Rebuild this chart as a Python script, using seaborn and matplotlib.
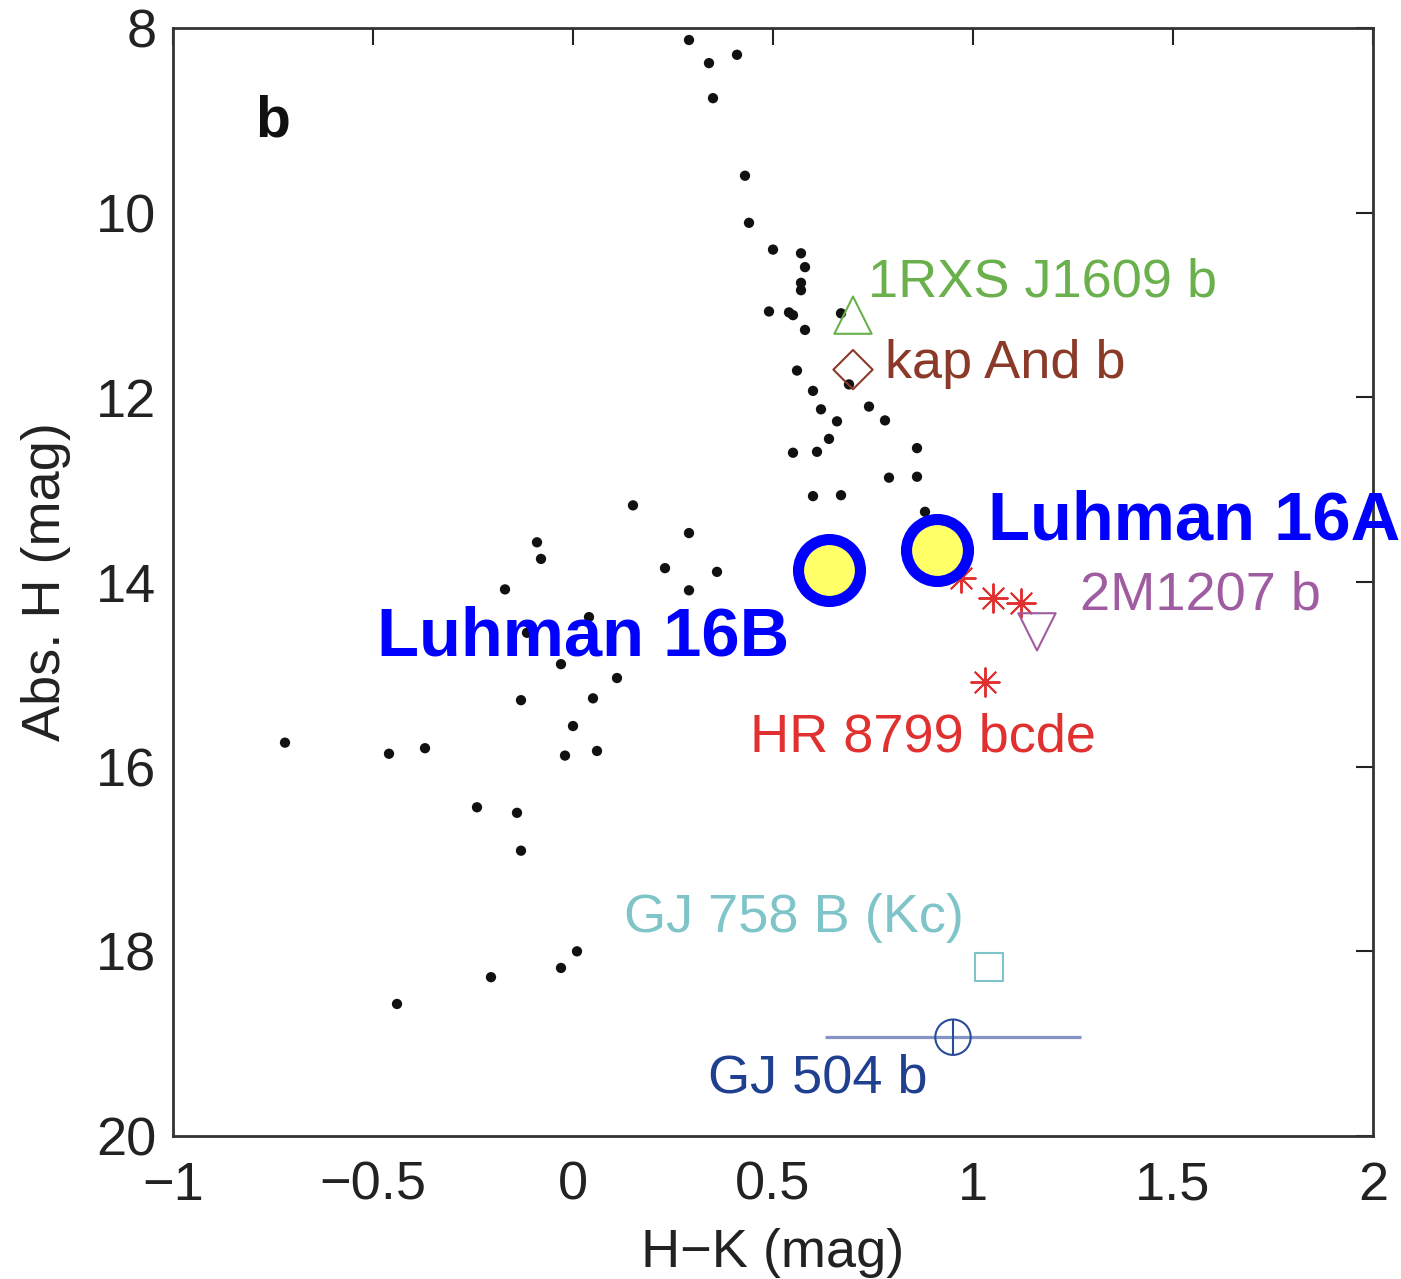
import matplotlib
matplotlib.use("Agg")
import matplotlib.pyplot as plt
import seaborn as sns
import pandas as pd

# Field brown dwarfs (H-K, Abs. H)
field_hk = [0.29, 0.34, 0.41, 0.35, 0.43, 0.44, 0.50, 0.57, 0.58, 0.57, 0.57, 0.49,
            0.54, 0.55, 0.58, 0.56, 0.60, 0.62, 0.66, 0.74, 0.78, 0.64, 0.61, 0.55,
            0.86, 0.79, 0.86, 0.60, 0.67, 0.15, 0.88, 0.69, 0.67,
            -0.09, -0.08, 0.23, -0.17, 0.04, -0.115, -0.03, 0.11, -0.13, 0.05, 0.00,
            -0.72, -0.46, -0.37, -0.02, 0.06, -0.24, -0.14, -0.13,
            0.29, 0.29, 0.36, -0.205, -0.03, 0.01, -0.44]
field_h = [8.13, 8.38, 8.29, 8.76, 9.60, 10.11, 10.40, 10.44, 10.59, 10.76, 10.84, 11.07,
           11.08, 11.11, 11.27, 11.71, 11.93, 12.13, 12.26, 12.10, 12.25, 12.45, 12.59, 12.60,
           12.55, 12.87, 12.86, 13.07, 13.06, 13.17, 13.24, 11.86, 11.09,
           13.57, 13.75, 13.85, 14.08, 14.38, 14.55, 14.89, 15.04, 15.28, 15.26, 15.56,
           15.74, 15.86, 15.80, 15.88, 15.83, 16.44, 16.50, 16.91,
           13.47, 14.09, 13.89, 18.28, 18.18, 18.00, 18.57]

# Directly imaged companions
rxs_hk, rxs_h = [0.70], [11.11]
kap_hk, kap_h = [0.70], [11.70]
hr_hk = [0.97, 1.05, 1.12, 1.03]
hr_h = [13.96, 14.17, 14.23, 15.08]
m1207_hk, m1207_h = [1.16], [14.54]
gj758_hk, gj758_h = [1.04], [18.17]
gj504_hk, gj504_h, gj504_xerr = [0.95], [18.93], [0.32]

# Luhman 16
luh_names = ["Luhman 16B", "Luhman 16A"]
luh_hk = [0.64, 0.91]
luh_h = [13.87, 13.65]

xticks = [-1, -0.5, 0, 0.5, 1, 1.5, 2]
xticklabels = ["\u22121", "\u22120.5", "0", "0.5", "1", "1.5", "2"]
yticks = [8, 10, 12, 14, 16, 18, 20]

sns.set_theme(style="white")
plt.rcParams['font.family'] = ['Liberation Sans', 'DejaVu Sans']

fig = plt.figure(figsize=(14.01, 12.79), dpi=100)
ax = fig.add_axes([173/1401, 1 - 1136/1279, 1200/1401, 1108/1279])

df = pd.DataFrame({"hk": field_hk, "h": field_h})
sns.scatterplot(data=df, x="hk", y="h", ax=ax, color="#111111", s=55,
                edgecolor="none", zorder=3)

ax.scatter(rxs_hk, rxs_h, marker="^", s=720, facecolors="none",
           edgecolors="#6ab04c", linewidths=1.5, zorder=4)
ax.scatter(kap_hk, kap_h, marker="D", s=400, facecolors="none",
           edgecolors="#8b3a2a", linewidths=1.5, zorder=4)
ax.scatter(hr_hk, hr_h, marker=(8, 2, 0), s=420, color="#e03030",
           linewidths=1.4, zorder=4)
ax.scatter(m1207_hk, m1207_h, marker="v", s=720, facecolors="none",
           edgecolors="#a05ca0", linewidths=1.5, zorder=4)
ax.scatter(gj758_hk, gj758_h, marker="s", s=380, facecolors="none",
           edgecolors="#7fc4c8", linewidths=1.5, zorder=4)
ax.errorbar(gj504_hk, gj504_h, xerr=gj504_xerr, fmt="none", ecolor="#8494c4",
            elinewidth=2.3, capsize=0, zorder=3)
ax.scatter(gj504_hk, gj504_h, marker="o", s=650, facecolors="none",
           edgecolors="#2a4a9a", linewidths=1.5, zorder=4)
ax.scatter(gj504_hk, gj504_h, marker="|", s=650, color="#2a4a9a",
           linewidths=1.5, zorder=4)

ax.scatter(luh_hk, luh_h, marker="o", s=1990, facecolors="#ffff66",
           edgecolors="#0000ff", linewidths=8, zorder=6)

tkw = dict(fontsize=39, zorder=7, va="baseline")
ax.text(0.7375, 10.91, "1RXS J1609 b", color="#6ab04c", **tkw)
ax.text(0.78, 11.79, "kap And b", color="#8b3a2a", **tkw)
ax.text(1.2675, 14.30, "2M1207 b", color="#a05ca0", **tkw)
ax.text(0.4425, 15.84, "HR 8799 bcde", color="#e03030", **tkw)
ax.text(0.1275, 17.79, "GJ 758 B (Kc)", color="#7fc4c8", **tkw)
ax.text(0.3375, 19.53, "GJ 504 b", color="#1f3f8f", **tkw)
ax.text(1.0375, 13.545, luh_names[1], color="#0000ff", fontsize=49.5,
        fontweight="bold", va="baseline", zorder=7)
ax.text(-0.49, 14.80, luh_names[0], color="#0000ff", fontsize=49.5,
        fontweight="bold", va="baseline", zorder=7)
ax.text(-0.795, 9.18, "b", color="#111111", fontsize=41, fontweight="bold",
        va="baseline", zorder=7)

ax.set_xlim(-1, 2)
ax.set_ylim(20, 8)
ax.set_xticks(xticks)
ax.set_xticklabels(xticklabels)
ax.set_yticks(yticks)
ax.tick_params(axis="both", direction="in", length=12, width=1.5, labelsize=39,
               top=True, right=True, colors="#222222")
ax.tick_params(axis="x", pad=18)
ax.tick_params(axis="y", pad=12)
for sp in ax.spines.values():
    sp.set_color("#333333")
    sp.set_linewidth(2)
ax.set_xlabel("H\u2212K (mag)", fontsize=39, color="#222222", labelpad=12)
ax.set_ylabel("Abs. H (mag)", fontsize=39, color="#222222", labelpad=18)

fig.savefig("out.png", dpi=100)
